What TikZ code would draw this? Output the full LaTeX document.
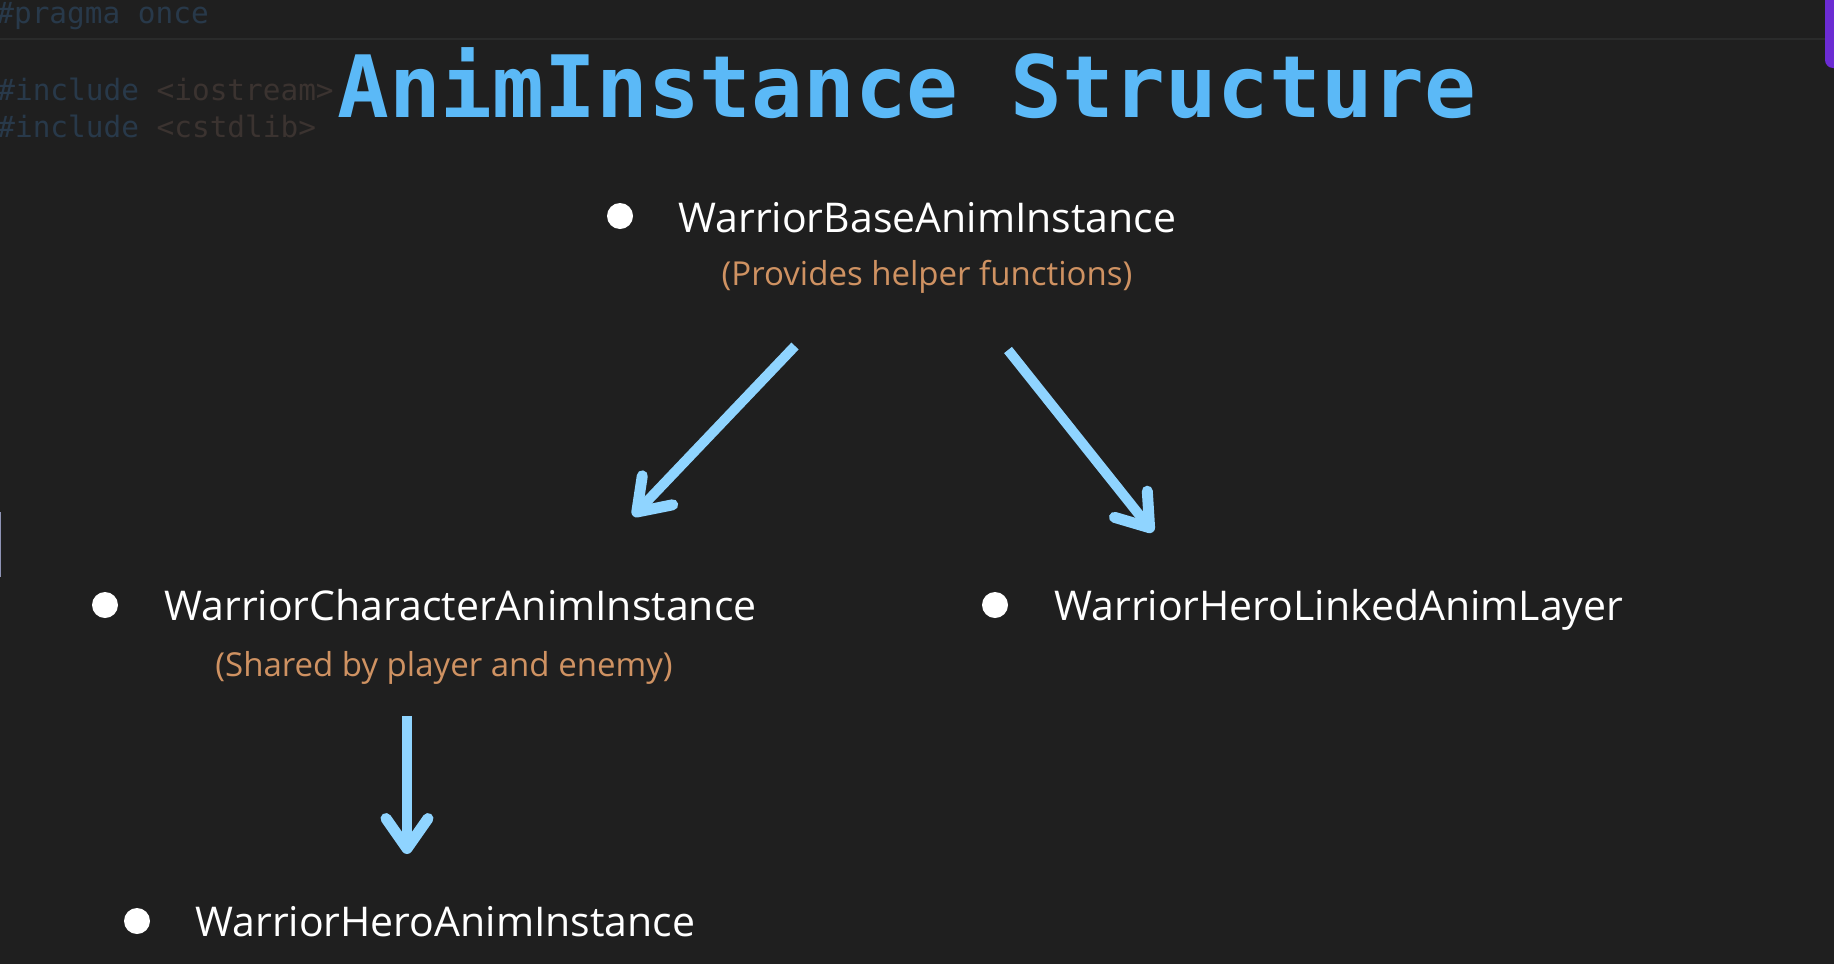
\documentclass[tikz,border=0pt]{standalone}
\usepackage{fontspec}
\setmainfont{Open Sans}
\setmonofont{DejaVu Sans Mono}
\usetikzlibrary{arrows.meta}
\definecolor{bgcol}{HTML}{1F1F1F}
\definecolor{titlecol}{HTML}{5BB9F7}
\definecolor{notecol}{HTML}{CF9262}
\definecolor{arrcol}{HTML}{8FD4FF}
\definecolor{kwcol}{HTML}{28394A}
\definecolor{strcol}{HTML}{3B3330}
\definecolor{rulecol}{HTML}{2A2B2B}
\definecolor{purplecol}{HTML}{6B2BD3}
\definecolor{edgecol}{HTML}{8E93B5}

\begin{document}
\begin{tikzpicture}[x=0.5pt,y=-0.5pt,
  dot/.style={circle,fill=white,inner sep=0pt,minimum size=13pt},
  item/.style={anchor=base west,inner sep=0pt,text=white,
               font=\fontsize{20.5}{25}\selectfont},
  note/.style={anchor=base,inner sep=0pt,text=notecol,
               font=\fontsize{16.5}{20}\selectfont},
  code/.style={anchor=base west,inner sep=0pt,
               font=\ttfamily\fontsize{14.7}{17}\selectfont},
  ar/.style={-{Straight Barb[length=15pt,width=21pt,round,line width=5.5pt]},
             line width=5pt,arrcol},
]
\useasboundingbox (0,0) rectangle (1834,964);
\fill[bgcol] (0,0) rectangle (1834,964);

% editor leftovers behind the slide
\draw[rulecol,line width=1pt] (0,39) -- (1834,39);
\node[code,text=kwcol] (pragma) at (-4,23) {\#pragma once};
\node[code] (inc1) at (-3,100)
  {\textcolor{kwcol}{\#include} \textcolor{strcol}{<iostream>}};
\node[code] (inc2) at (-3,137)
  {\textcolor{kwcol}{\#include} \textcolor{strcol}{<cstdlib>}};
\fill[purplecol,rounded corners=4pt] (1825,-10) rectangle (1850,68);
\fill[edgecol] (-2,512) rectangle (1,577);

\node[anchor=base west,inner sep=0pt,text=titlecol,
      font=\ttfamily\bfseries\fontsize{43}{50}\selectfont]
  (title) at (337,117) {AnimInstance Structure};

\node[dot] (d1) at (620,216) {};
\node[item] (base) at (678,232) {WarriorBaseAnimInstance};
\node[note] (baseNote) at (927,285) {(Provides helper functions)};

\node[dot] (d2) at (105,605) {};
\node[item] (chr) at (164,620) {WarriorCharacterAnimInstance};
\node[note] (chrNote) at (444,676) {(Shared by player and enemy)};

\node[dot] (d3) at (995,605) {};
\node[item] (linked) at (1054,620) {WarriorHeroLinkedAnimLayer};

\node[dot] (d4) at (137,921) {};
\node[item] (hero) at (195,936) {WarriorHeroAnimInstance};

\coordinate (toChrS) at (795,346);
\coordinate (toChrE) at (633,516);
\coordinate (toLnkS) at (1008,350);
\coordinate (toLnkE) at (1153,532);
\coordinate (toHeroS) at (407,716);
\coordinate (toHeroE) at (407,854);

\draw[ar] (toChrS) -- (toChrE);
\draw[ar] (toLnkS) -- (toLnkE);
\draw[ar] (toHeroS) -- (toHeroE);
\end{tikzpicture}
\end{document}
